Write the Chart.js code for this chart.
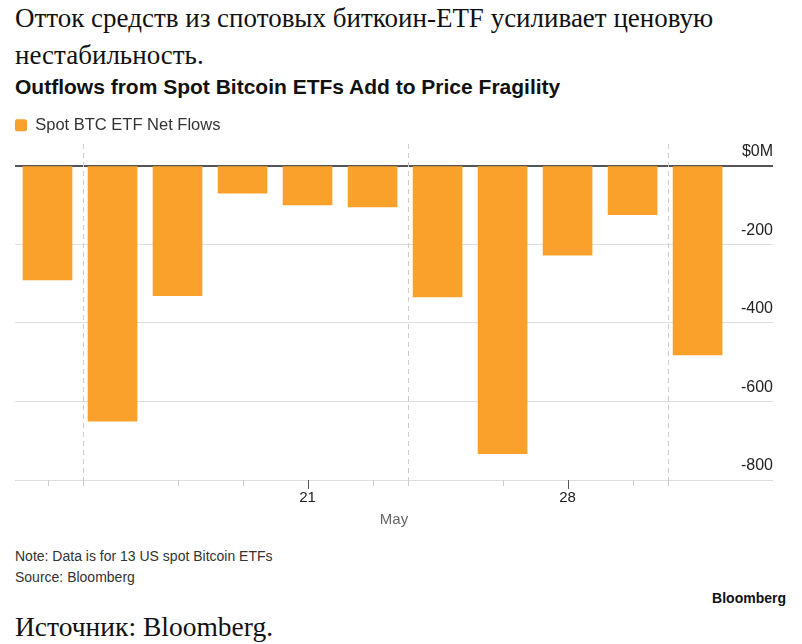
<!DOCTYPE html>
<html>
<head>
<meta charset="utf-8">
<script src="https://cdn.jsdelivr.net/npm/chart.js@4/dist/chart.umd.min.js"></script>
<style>
  body { margin: 0; background: #fff; width: 802px; height: 644px; position: relative; overflow: hidden; }
  .serif { font-family: "Liberation Serif", "DejaVu Serif", serif; color: #111; position: absolute; left: 15px; }
  .sans { font-family: "Liberation Sans", Arial, sans-serif; position: absolute; }
  #head { top: 0px; font-size: 27px; line-height: 37px; width: 785px; }
  #title { top: 75px; left: 15px; font-size: 21px; font-weight: bold; color: #111; }
  #note { top: 546px; left: 15px; font-size: 14px; line-height: 21px; color: #333; }
  #brand { top: 590px; right: 16px; font-size: 14px; font-weight: bold; color: #111; }
  #src { top: 611px; font-size: 27.5px; }
  #wrap { position: absolute; top: 105px; left: 0; width: 802px; height: 430px; }
</style>
</head>
<body>
<div id="head" class="serif">Отток средств из спотовых биткоин-ETF усиливает ценовую нестабильность.</div>
<div id="title" class="sans">Outflows from Spot Bitcoin ETFs Add to Price Fragility</div>
<div id="wrap"><canvas id="flowsChart"></canvas></div>
<div id="note" class="sans">Note: Data is for 13 US spot Bitcoin ETFs<br>Source: Bloomberg</div>
<div id="brand" class="sans">Bloomberg</div>
<div id="src" class="serif">Источник: Bloomberg.</div>

<script>
// daily net flows, $M
const netFlows = [-291, -650, -331, -70, -100, -105, -334, -733, -228, -125, -482];
const tickLabels = ['', '', '', '', '21', '', '', '', '28', '', ''];
const yTicks = [0, -200, -400, -600, -800];
// day ticks and week separators (bar index positions)
const dayTicks = [0, 2, 3, 4, 5, 7, 8, 9];
const weekStarts = [0.55, 5.55, 9.55];

const orange = '#F9A12A';

const weekMarks = {
    id: 'weekMarks',
    beforeInit(chart) {
        // fixed legend height so the plot starts lower
        const fit = chart.legend.fit;
        chart.legend.fit = function () {
            fit.call(this);
            this.height = 27;
        };
    },
    beforeDatasetsDraw(chart) {
        const {ctx, chartArea, scales: {x}} = chart;
        ctx.save();
        ctx.lineWidth = 1;
        ctx.strokeStyle = '#cccccc';
        ctx.setLineDash([5, 4]);
        weekStarts.forEach(v => {
            const px = Math.round(x.getPixelForValue(v)) + 0.5;
            ctx.beginPath();
            ctx.moveTo(px, chartArea.top);
            ctx.lineTo(px, chartArea.bottom);
            ctx.stroke();
        });
        ctx.setLineDash([]);
        weekStarts.concat(dayTicks).forEach(v => {
            const major = tickLabels[v] ? true : false;
            const px = Math.round(x.getPixelForValue(v)) + 0.5;
            ctx.strokeStyle = major ? '#555555' : '#cccccc';
            ctx.beginPath();
            ctx.moveTo(px, chartArea.bottom);
            ctx.lineTo(px, chartArea.bottom + (major ? 9 : 6));
            ctx.stroke();
        });
        ctx.restore();
    }
};

function drawChart() {
    const ctx = document.getElementById('flowsChart').getContext('2d');
    new Chart(ctx, {
        type: 'bar',
        data: {
            datasets: [{
                label: 'Spot BTC ETF Net Flows',
                data: netFlows.map((v, i) => ({x: i, y: v})),
                backgroundColor: orange,
                borderWidth: 0,
                barThickness: 49
            }]
        },
        options: {
            responsive: true,
            maintainAspectRatio: false,
            animation: false,
            layout: {
                padding: {left: 15, right: 29, top: 12, bottom: 0}
            },
            scales: {
                x: {
                    type: 'linear',
                    offset: false,
                    bounds: 'data',
                    min: -0.5,
                    max: 11.16,
                    afterBuildTicks: (scale) => {
                        scale.ticks = tickLabels
                            .map((t, i) => ({value: i, label: t}))
                            .filter(t => t.label);
                    },
                    ticks: {
                        padding: 9,
                        color: '#222',
                        font: {family: 'Liberation Sans', size: 15},
                        callback: (v) => tickLabels[v]
                    },
                    grid: {display: false, drawTicks: false},
                    border: {display: false},
                    title: {
                        display: true,
                        text: 'May',
                        color: '#666',
                        font: {family: 'Liberation Sans', size: 15},
                        padding: {top: -5, bottom: 6}
                    }
                },
                y: {
                    position: 'right',
                    min: -800,
                    max: 55,
                    afterBuildTicks: (scale) => {
                        scale.ticks = yTicks.map(v => ({value: v}));
                    },
                    ticks: {
                        mirror: true,
                        padding: 0,
                        labelOffset: -14,
                        color: '#222',
                        font: {family: 'Liberation Sans', size: 16},
                        callback: (v) => v === 0 ? '$0M' : v
                    },
                    grid: {
                        drawTicks: false,
                        color: (c) => c.tick && c.tick.value === 0 ? '#555555' : '#dedede',
                        lineWidth: (c) => c.tick && c.tick.value === 0 ? 2 : 1
                    },
                    border: {display: false}
                }
            },
            plugins: {
                legend: {
                    align: 'start',
                    labels: {
                        boxWidth: 12,
                        boxHeight: 12,
                        useBorderRadius: true,
                        borderRadius: 2,
                        color: '#333',
                        padding: 0,
                        font: {family: 'Liberation Sans', size: 16.5}
                    }
                },
                tooltip: {
                    enabled: false
                }
            }
        },
        plugins: [weekMarks]
    });
}
drawChart();
</script>
</body>
</html>
